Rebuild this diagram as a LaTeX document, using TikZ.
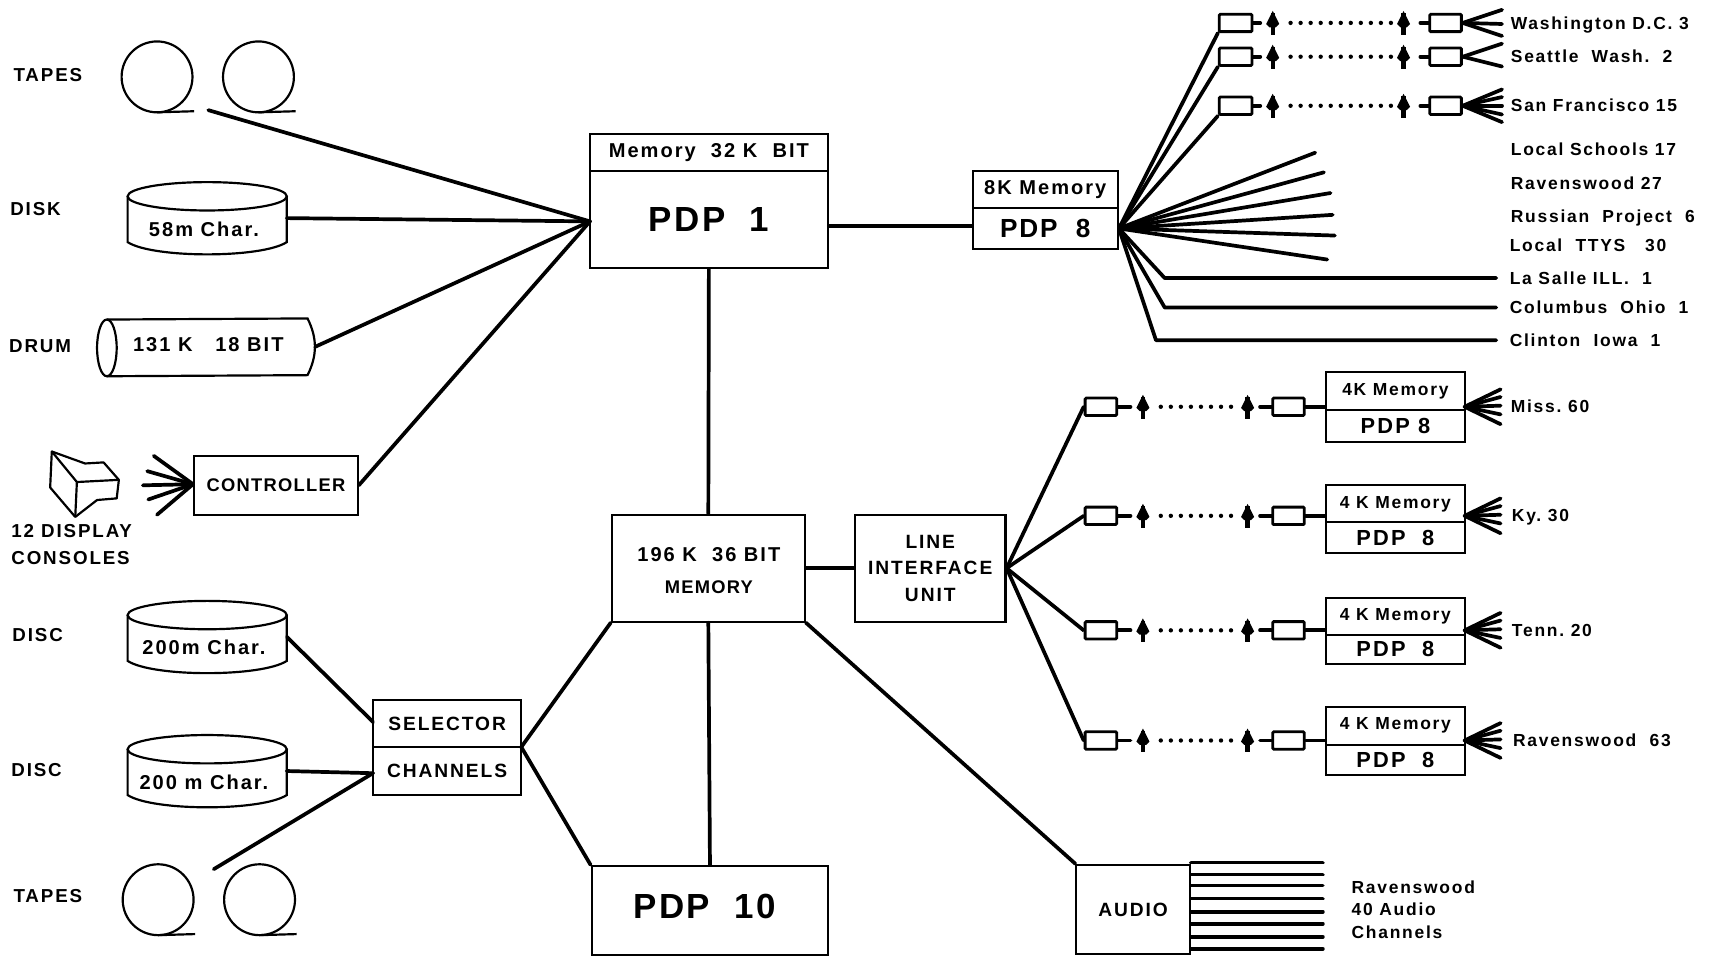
\documentclass[tikz,border=0pt]{standalone}
\usepackage{fontspec}
\setmainfont{Liberation Sans}[LetterSpace=7]
\newfontfamily\widefont{Liberation Sans}[LetterSpace=10]
\usetikzlibrary{positioning}
\tikzset{
  wire/.style={line width=1.7pt, line cap=round},
  thin wire/.style={line width=1pt},
  unitbox/.style 2 args={draw, line width=1pt, inner sep=0pt, minimum width=0.5*#1, minimum height=0.5*#2},
  smallbox/.style 2 args={unitbox={#1}{#2}, line width=1.3pt, rounded corners=0.5pt},
  dots/.style={line width=2pt, line cap=round, dash pattern=on 0pt off 4.6pt},
  lab/.style={font=\fontsize{8}{9}\widefont\bfseries, inner sep=0pt},
  sidelab/.style={lab, anchor=base west, yshift=-2.8pt},
  caplab/.style={font=\fontsize{8.6}{10}\widefont\bfseries, inner sep=0pt},
  midlab/.style={font=\fontsize{8.4}{10}\selectfont\bfseries, inner sep=0pt},
  midcap/.style={font=\fontsize{8.8}{10}\widefont\bfseries, inner sep=0pt},
  mixlab/.style={font=\fontsize{9.2}{11}\widefont\bfseries, inner sep=0pt},
  ptlab/.style={font=\fontsize{10}{12}\widefont\bfseries, inner sep=0pt},
  biglab/.style={font=\fontsize{16}{18}\selectfont\bfseries, inner sep=0pt},
  gapmark/.style={inner sep=0pt, minimum width=11pt, minimum height=6pt},
  disc/.pic={
    \draw[thin wire] (0,0) ellipse (73 and 13);
    \draw[thin wire] (-73,0) -- (-73,42) .. controls (-50,57) and (50,57) .. (73,42) -- (73,0);
    \coordinate (-wire) at (73,20);
    \node[mixlab] (-label) at (-3,30) {#1};
  },
  tape/.pic={
    \draw[thin wire] (0,0) circle (32.5);
    \draw[thin wire] (0,32.5) -- (34,31.5);
  },
  relay/.pic={
    \draw[line width=2pt] (0,-9) -- (0,11);
    \fill (0,-11) -- (6,1) -- (3,4) -- (-3,4) -- (-6,1) -- cycle;
  }
}

\begin{document}
\begin{tikzpicture}[x=0.5pt, y=-0.5pt]
  \useasboundingbox (0,0) rectangle (1568,877);

  % Main machines
  \node[unitbox={218}{34}, mixlab] (memone) at (650,140) {Memory\ \ 32 K\ \ BIT};
  \node[unitbox={218}{89}, biglab, below=-1pt of memone] (pdpone) {PDP\ \ 1};
  \node[unitbox={133}{34}, mixlab] (memeight) at (958.5,174) {8K Memory};
  \node[unitbox={133}{37}, font=\fontsize{12}{14}\selectfont\bfseries, below=-1pt of memeight] (pdpeight) {PDP\ \ 8};
  \node[unitbox={177}{98}] (mem) at (649.5,521) {};
  \node[mixlab] (memtxta) at (650,509) {196 K\ \ 36 BIT};
  \node[midlab] (memtxtb) at (650,538) {MEMORY};
  \node[unitbox={138}{98}, midcap, align=center] (lif) at (853,521) {LINE\\[2.2pt]INTERFACE\\[2.2pt]UNIT};
  \node[unitbox={217}{82}] (pdpten) at (651,835) {};
  \node[biglab] (pdptentxt) at (646,831) {PDP\ \ 10};
  \node[unitbox={104}{82}, midcap] (audio) at (1039,834) {AUDIO};
  \node[unitbox={136}{43}, midcap] (selector) at (410,663.5) {SELECTOR};
  \node[unitbox={136}{44}, midcap, below=-1pt of selector] (channels) {CHANNELS};
  \node[unitbox={150}{54}, midlab] (controller) at (253,445) {CONTROLLER};

  % Left side devices
  \node[caplab, anchor=west] (ltapesa) at (12,69) {TAPES};
  \node[caplab, anchor=west] (ldisk) at (9,192) {DISK};
  \node[caplab, anchor=west] (ldrum) at (8,317) {DRUM};
  \node[caplab, align=left, anchor=west] (lcons) at (10,499) {12 DISPLAY\\[2.4pt]CONSOLES};
  \node[caplab, anchor=west] (ldisca) at (11,582) {DISC};
  \node[caplab, anchor=west] (ldiscb) at (10,706) {DISC};
  \node[caplab, anchor=west] (ltapesb) at (12,822) {TAPES};
  \pic at (144,70.5) {tape};
  \pic at (237,70.5) {tape};
  \pic at (145,825) {tape};
  \pic at (238,825) {tape};
  \pic (dka) at (190,180) {disc={58m Char.}};
  \pic (dkb) at (190,564) {disc={200m Char.}};
  \pic (dkc) at (190,687) {disc={200 m Char.}};

  % Drum
  \draw[thin wire] (98,319) ellipse (9 and 26);
  \draw[thin wire] (98,293) -- (282,292) .. controls (291,310) and (291,326) .. (282,344) -- (98,345);
  \node[mixlab] (drumtxt) at (191,316) {131 K\ \ \ 18 BIT};
  \coordinate (drumend) at (289,318);

  % Display console
  \draw[thin wire, line join=round] (47.5,414) -- (78,425) -- (95,424) -- (109,440) -- (107,457)
    -- (89,458.5) -- (69,474) -- (46,447) -- cycle;
  \draw[thin wire, line join=round] (47.5,414) -- (70.5,442) -- (69,474);
  \draw[thin wire] (70.5,442) -- (109,440);
  \coordinate (conshub) at (177,444);
  \foreach \ex/\ey in {141/418, 135/432, 131/445, 136/458, 144/472} {
    \draw[wire] (conshub) -- (\ex,\ey);
  }

  % Wires into PDP 1
  \coordinate (onehub) at (541,203);
  \coordinate (tapeend) at (191,101);
  \draw[wire] (tapeend) -- (onehub);
  \draw[wire] (dka-wire) -- (onehub);
  \draw[wire] (drumend) -- (onehub);
  \draw[wire] (controller.east) -- (onehub);
  \draw[wire] (pdpone.east |- 0,207) -- (pdpeight.west |- 0,207);
  \draw[wire] (pdpone.south) -- (mem.north);
  \draw[wire] (mem.south) -- (pdpten.north);
  \draw[wire] (mem.east) -- (lif.west);
  \draw[wire] (mem.south east) -- (audio.north west);

  % Selector channels
  \coordinate (tapetwo) at (196,797);
  \coordinate (chanin) at (342,709);
  \coordinate (chanout) at (478,685);
  \draw[wire] (dkb-wire) -- (342,662);
  \draw[wire] (dkc-wire) -- (chanin);
  \draw[wire] (tapetwo) -- (chanin);
  \draw[wire] (chanout) -- (mem.south west);
  \draw[wire] (chanout) -- (pdpten.north west);

  % Audio channels
  \foreach \i/\y in {1/791, 2/802, 3/812, 4/824, 5/836, 6/847, 7/859, 8/870} {
    \coordinate (ch\i) at (1213,\y);
    \draw[wire] (ch\i -| audio.east) -- (ch\i);
  }
  \node[lab, align=left, anchor=west] (audiotxt) at (1239,834) {Ravenswood\\[1.4pt]40 Audio\\[1.4pt]Channels};

  % Long distance lines from PDP 8
  \foreach \n/\y/\lab/\fan in {a/21/Washington D.C. 3/{-12,1,12}, b/52/Seattle\ \ Wash.\ \ 2/{-12,9}, c/97/San Francisco 15/{-15,-8,0,8,15}} {
    \node[smallbox={30}{16}] (near\n) at (1133,\y) {};
    \node[smallbox={29}{16}] (far\n) at (1325.5,\y) {};
    \node[gapmark] (sa\n) at (1167,\y) {};
    \node[gapmark] (sb\n) at (1287,\y) {};
    \pic at (sa\n) {relay};
    \pic at (sb\n) {relay};
    \draw[wire] (near\n) -- (sa\n);
    \draw[wire, shorten <=2pt] (sb\n) -- (far\n);
    \draw[dots, shorten <=2.5pt] (sa\n) -- (sb\n);
    \draw[wire] (pdpeight.east) -- (near\n.south west);
    \foreach \dy in \fan {
      \draw[wire] (far\n.east) -- ++(36,\dy);
    }
    \node[sidelab] (l\n) at (1385,\y) {\lab};
  }

  % Local lines
  \foreach \i/\ex/\ey in {1/1206/140, 2/1214/158, 3/1220/177, 4/1222/197, 5/1224/216, 6/1217/238} {
    \coordinate (loc\i) at (\ex,\ey);
    \draw[wire] (pdpeight.east) -- (loc\i);
  }
  \node[sidelab] (lschool) at (1385,137) {Local Schools\ 17};
  \node[sidelab] (lraven) at (1385,168) {Ravenswood\ 27};
  \node[sidelab] (lrussian) at (1385,198) {Russian\ \ Project\ \ 6};
  \node[sidelab] (lttys) at (1384,225) {Local\ \ TTYS\ \ \ 30};

  % Single lines
  \foreach \n/\y/\elx/\lab in {d/255/1068/La\ Salle\ ILL.\ \ 1, e/282/1068/Columbus\ \ Ohio\ \ 1, f/312/1060/Clinton\ \ Iowa\ \ 1} {
    \coordinate (wire\n) at (1372,\y);
    \draw[wire, line join=round] (pdpeight.east) -- (\elx,\y) -- (wire\n);
    \node[sidelab] (l\n) at (1384,\y) {\lab};
  }

  % Remote PDP 8 stations
  \foreach \n/\y/\ym/\hm/\hp/\mtxt/\ptxt/\lab/\lx in {
      g/373/358.5/35/29/4K Memory/PDP\ 8/Miss.\ 60/1385,
      h/473/462/34/28/4 K Memory/PDP\ \ 8/Ky.\ 30/1386,
      i/578/565/34/27/4 K Memory/PDP\ \ 8/Tenn.\ 20/1386,
      j/679/665.5/35/28/4 K Memory/PDP\ \ 8/Ravenswood\ \ 63/1387} {
    \node[unitbox={127}{\hm}, lab] (mm\n) at (1279.5,\ym) {\mtxt};
    \node[unitbox={127}{\hp}, ptlab, below=-1pt of mm\n] (pp\n) {\ptxt};
    \node[smallbox={29}{16}] (near\n) at (1009.5,\y) {};
    \node[smallbox={29}{16}] (far\n) at (1181.5,\y) {};
    \node[gapmark] (sa\n) at (1048,\y) {};
    \node[gapmark] (sb\n) at (1144,\y) {};
    \pic at (sa\n) {relay};
    \pic at (sb\n) {relay};
    \draw[wire] (near\n) -- (sa\n);
    \draw[wire] (sb\n) -- (far\n);
    \draw[wire] (far\n) -- (far\n -| mm\n.west);
    \draw[dots, shorten <=2.5pt] (sa\n) -- (sb\n);
    \draw[wire] (lif.east) -- (near\n.west);
    \coordinate (fanhub\n) at (1343,\y);
    \foreach \dy in {-16,-9,-1,7,16} {
      \draw[wire] (fanhub\n) -- ++(33,\dy);
    }
    \node[sidelab] (l\n) at (\lx,\y) {\lab};
  }
\end{tikzpicture}
\end{document}
